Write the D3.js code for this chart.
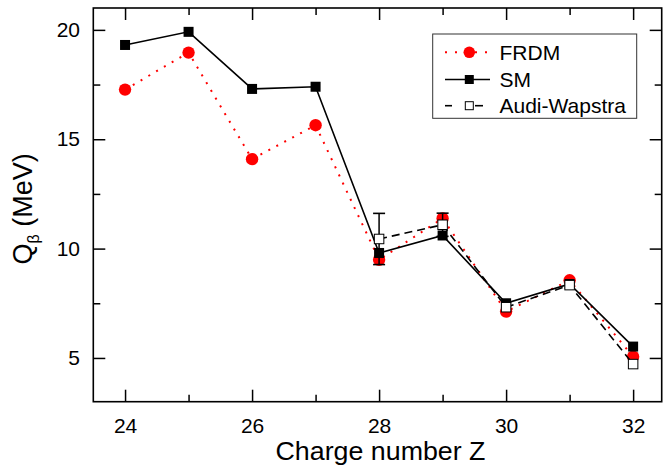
<!DOCTYPE html>
<html>
<head>
<meta charset="utf-8">
<script src="https://d3js.org/d3.v7.min.js"></script>
<style>
  html, body { margin: 0; padding: 0; background: #fff; }
  svg { display: block; font-family: "Liberation Sans", Arial, sans-serif; }
</style>
</head>
<body>
<svg id="chart" width="670" height="465"></svg>
<script>
// ---- data ----
const zFRDM = [24, 25, 26, 27, 28, 29, 30, 31, 32];
const qFRDM = [17.27, 18.96, 14.09, 15.64, 9.49, 11.38, 7.12, 8.55, 5.06];

const zSM = [24, 25, 26, 27, 28, 29, 30, 31, 32];
const qSM = [19.31, 19.91, 17.30, 17.40, 9.80, 10.60, 7.50, 8.38, 5.52];

const zAW = [28, 29, 30, 31, 32];
const qAW = [10.44, 11.09, 7.32, 8.33, 4.72];
const errAW = [1.17, 0.53, 0, 0, 0];

const xMajorTicks = [24, 26, 28, 30, 32];
const xMinorTicks = [25, 27, 29, 31];
const yMajorTicks = [5, 10, 15, 20];
const yMinorTicks = [7.5, 12.5, 17.5];

const legendLabels = ["FRDM", "SM", "Audi-Wapstra"];

// ---- layout ----
const W = 670, H = 465;
const m = { left: 93.3, right: 8.3, top: 8, bottom: 63.3 };
const iw = W - m.left - m.right, ih = H - m.top - m.bottom;

const svg = d3.select("#chart");
const g = svg.append("g").attr("transform", `translate(${m.left},${m.top})`);

const x = d3.scaleLinear().domain([23.5, 32.45]).range([0, iw]);
const y = d3.scaleLinear().domain([3, 21]).range([ih, 0]);

const tickFont = 21;

function styleAxis(sel) {
  sel.select(".domain").remove();
  sel.selectAll(".tick line").attr("stroke", "#000").attr("stroke-width", 1.5);
  sel.selectAll("text").attr("font-size", tickFont).attr("fill", "#000")
     .attr("font-family", '"Liberation Sans", Arial, sans-serif');
}

// bottom
g.append("g").attr("transform", `translate(0,${ih})`)
  .call(d3.axisBottom(x).tickValues(xMajorTicks).tickSize(-12).tickPadding(16.5).tickFormat(d3.format("d")))
  .call(styleAxis);
g.append("g").attr("transform", `translate(0,${ih})`)
  .call(d3.axisBottom(x).tickValues(xMinorTicks).tickSize(-7).tickFormat(""))
  .call(styleAxis);
// top
g.append("g")
  .call(d3.axisTop(x).tickValues(xMajorTicks).tickSize(-12).tickFormat(""))
  .call(styleAxis);
g.append("g")
  .call(d3.axisTop(x).tickValues(xMinorTicks).tickSize(-7).tickFormat(""))
  .call(styleAxis);
// left
g.append("g")
  .call(d3.axisLeft(y).tickValues(yMajorTicks).tickSize(-12).tickPadding(13.3).tickFormat(d3.format("d")))
  .call(styleAxis);
g.append("g")
  .call(d3.axisLeft(y).tickValues(yMinorTicks).tickSize(-7).tickFormat(""))
  .call(styleAxis);
// right
g.append("g").attr("transform", `translate(${iw},0)`)
  .call(d3.axisRight(y).tickValues(yMajorTicks).tickSize(-12).tickFormat(""))
  .call(styleAxis);
g.append("g").attr("transform", `translate(${iw},0)`)
  .call(d3.axisRight(y).tickValues(yMinorTicks).tickSize(-7).tickFormat(""))
  .call(styleAxis);

// frame
g.append("rect").attr("x", 0).attr("y", 0).attr("width", iw).attr("height", ih)
  .attr("fill", "none").attr("stroke", "#000").attr("stroke-width", 1.6);

// axis titles
svg.append("text")
  .attr("x", m.left + iw / 2 + 3).attr("y", 459.8)
  .attr("text-anchor", "middle").attr("font-size", 25).attr("fill", "#000")
  .attr("textLength", 210).attr("lengthAdjust", "spacingAndGlyphs")
  .text("Charge number Z");

const yt = svg.append("text")
  .attr("transform", `translate(32,${m.top + ih / 2 + 4}) rotate(-90)`)
  .attr("text-anchor", "middle").attr("font-size", 27).attr("fill", "#000");
yt.append("tspan").text("Q");
yt.append("tspan").attr("font-size", 16).attr("dy", 7).text("β");
yt.append("tspan").attr("dy", -7).text(" (MeV)");

// ---- series ----
const line = d3.line().x(d => x(d[0])).y(d => y(d[1]));

const frdm = zFRDM.map((z, i) => [z, qFRDM[i]]);
const sm = zSM.map((z, i) => [z, qSM[i]]);
const aw = zAW.map((z, i) => [z, qAW[i], errAW[i]]);

const plot = g.append("g");

// FRDM
plot.append("path").datum(frdm).attr("d", line)
  .attr("fill", "none").attr("stroke", "#ff0000").attr("stroke-width", 2)
  .attr("stroke-dasharray", "2 7");
plot.selectAll(".frdm").data(frdm).enter().append("circle")
  .attr("cx", d => x(d[0])).attr("cy", d => y(d[1])).attr("r", 6.2)
  .attr("fill", "#ff0000");

// SM
plot.append("path").datum(sm).attr("d", line)
  .attr("fill", "none").attr("stroke", "#000").attr("stroke-width", 1.6);
const sq = 10;
plot.selectAll(".sm").data(sm).enter().append("rect")
  .attr("x", d => x(d[0]) - sq / 2).attr("y", d => y(d[1]) - sq / 2)
  .attr("width", sq).attr("height", sq).attr("fill", "#000");

// Audi-Wapstra
plot.append("path").datum(aw).attr("d", line)
  .attr("fill", "none").attr("stroke", "#000").attr("stroke-width", 1.6)
  .attr("stroke-dasharray", "8 5");
const errs = aw.filter(d => d[2] > 0);
plot.selectAll(".errv").data(errs).enter().append("line")
  .attr("x1", d => x(d[0])).attr("x2", d => x(d[0]))
  .attr("y1", d => y(d[1] - d[2])).attr("y2", d => y(d[1] + d[2]))
  .attr("stroke", "#000").attr("stroke-width", 1.5);
[1, -1].forEach(s => {
  plot.selectAll(".cap" + s).data(errs).enter().append("line")
    .attr("x1", d => x(d[0]) - 6).attr("x2", d => x(d[0]) + 6)
    .attr("y1", d => y(d[1] + s * d[2])).attr("y2", d => y(d[1] + s * d[2]))
    .attr("stroke", "#000").attr("stroke-width", 1.6);
});
const osq = 9.5;
plot.selectAll(".aw").data(aw).enter().append("rect")
  .attr("x", d => x(d[0]) - osq / 2).attr("y", d => y(d[1]) - osq / 2)
  .attr("width", osq).attr("height", osq)
  .attr("fill", "#fff").attr("stroke", "#000").attr("stroke-width", 1);

// ---- legend ----
const lg = svg.append("g");
lg.append("rect").attr("x", 432.7).attr("y", 34).attr("width", 204).attr("height", 84.3)
  .attr("fill", "#fff").attr("stroke", "#333").attr("stroke-width", 1);
const rowsY = [52.3, 79.5, 105.7];
const lx1 = 445, lx2 = 490, lmx = 469.3, ltx = 499.5;

// FRDM row
lg.append("line").attr("x1", lx1).attr("x2", lx2).attr("y1", rowsY[0]).attr("y2", rowsY[0])
  .attr("stroke", "#ff0000").attr("stroke-width", 2).attr("stroke-dasharray", "2 8");
lg.append("circle").attr("cx", lmx).attr("cy", rowsY[0]).attr("r", 5.8).attr("fill", "#ff0000");
// SM row
lg.append("line").attr("x1", lx1).attr("x2", lx2).attr("y1", rowsY[1]).attr("y2", rowsY[1])
  .attr("stroke", "#000").attr("stroke-width", 1.6);
lg.append("rect").attr("x", lmx - 4.5).attr("y", rowsY[1] - 4.5).attr("width", 9).attr("height", 9).attr("fill", "#000");
// AW row
[[445, 452], [475, 483]].forEach(([a, b]) => {
  lg.append("line").attr("x1", a).attr("x2", b).attr("y1", rowsY[2]).attr("y2", rowsY[2])
    .attr("stroke", "#000").attr("stroke-width", 1.6);
});
lg.append("rect").attr("x", lmx - 4).attr("y", rowsY[2] - 4).attr("width", 8).attr("height", 8)
  .attr("fill", "#fff").attr("stroke", "#000").attr("stroke-width", 1);

lg.selectAll(".lt").data(legendLabels).enter().append("text")
  .attr("x", ltx).attr("y", (d, i) => rowsY[i]).attr("dy", "0.35em")
  .attr("font-size", 21).attr("fill", "#000").text(d => d);
</script>
</body>
</html>
